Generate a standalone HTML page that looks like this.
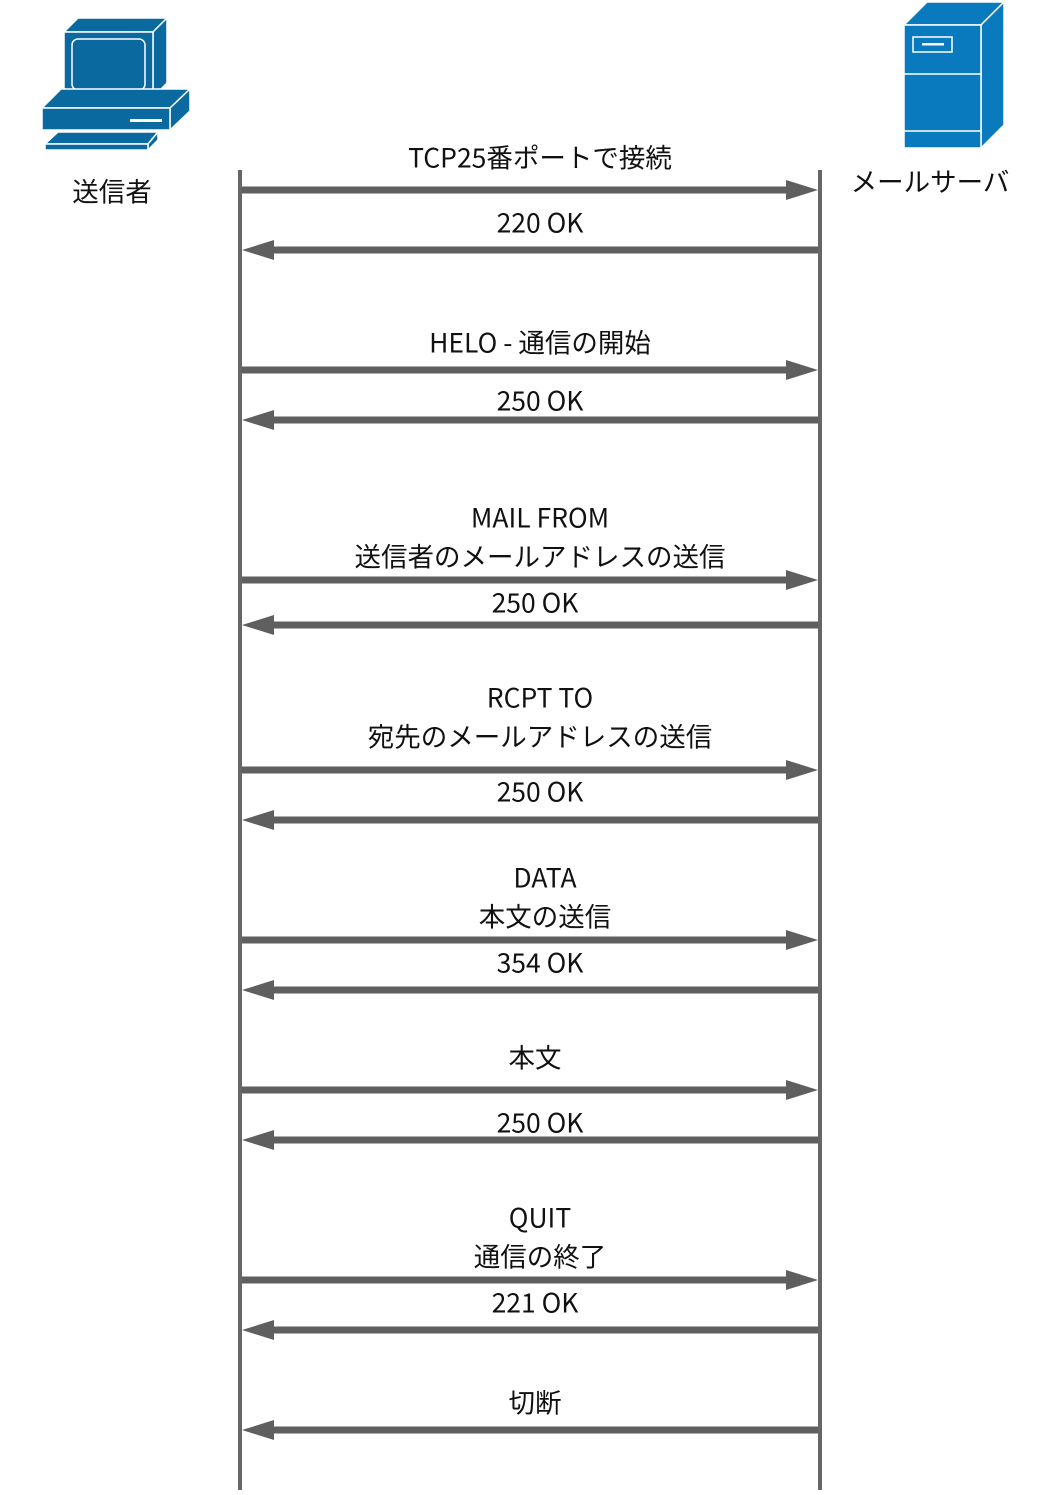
<!DOCTYPE html>
<html><head><meta charset="utf-8"><style>
html,body{margin:0;padding:0;background:#fff;}
svg text{font-family:"Noto Sans CJK JP","Liberation Sans",sans-serif;font-size:26.5px;fill:#111;text-anchor:middle;dominant-baseline:central;}
</style></head><body>
<svg width="1060" height="1490" viewBox="0 0 1060 1490" xmlns="http://www.w3.org/2000/svg">
<g stroke="#fff" stroke-width="1.5" fill="#0a6aa0">
<polygon points="64,32 78,18 167,18 153,32"/>
<polygon points="153,32 167,18 167,83 153,97"/>
<rect x="64" y="32" width="89" height="65"/>
<rect x="72" y="39" width="73" height="51" rx="6"/>
<polygon points="42,108 61,89 190,89 170,108"/>
<polygon points="170,108 190,89 190,111 170,130"/>
<rect x="42" y="108" width="128" height="22"/>
<polygon points="45,144 58,132 158,132 148,144"/>
<polygon points="148,144 158,132 158,140 148,150"/>
<rect x="45" y="144" width="103" height="6"/>
</g>
<rect x="130" y="119" width="32" height="3" fill="#fff"/>
<g stroke="#fff" stroke-width="1.5" fill="#0a7abf">
<polygon points="904,25 927,2 1004,2 981,25"/>
<polygon points="981,25 1004,2 1004,125 981,148"/>
<rect x="904" y="25" width="77" height="123"/>
<line x1="904" y1="74" x2="981" y2="74"/>
<line x1="904" y1="131" x2="981" y2="131"/>
<rect x="913" y="37" width="39" height="15"/>
</g>
<rect x="922" y="43" width="22" height="2.5" fill="#fff"/>
<text x="112" y="190">送信者</text>
<text x="930" y="180">メールサーバ</text>
<rect x="238" y="170" width="4" height="1320" fill="#666"/>
<rect x="818" y="170" width="4" height="1320" fill="#666"/>
<g fill="#5f5f5f">
<rect x="242" y="186.5" width="546" height="7"/><polygon points="786,180 818,190 786,200"/>
<rect x="242" y="366.5" width="546" height="7"/><polygon points="786,360 818,370 786,380"/>
<rect x="242" y="576.5" width="546" height="7"/><polygon points="786,570 818,580 786,590"/>
<rect x="242" y="766.5" width="546" height="7"/><polygon points="786,760 818,770 786,780"/>
<rect x="242" y="936.5" width="546" height="7"/><polygon points="786,930 818,940 786,950"/>
<rect x="242" y="1086.5" width="546" height="7"/><polygon points="786,1080 818,1090 786,1100"/>
<rect x="242" y="1276.5" width="546" height="7"/><polygon points="786,1270 818,1280 786,1290"/>
<rect x="272" y="246.5" width="546" height="7"/><polygon points="274,240 242,250 274,260"/>
<rect x="272" y="416.5" width="546" height="7"/><polygon points="274,410 242,420 274,430"/>
<rect x="272" y="621.5" width="546" height="7"/><polygon points="274,615 242,625 274,635"/>
<rect x="272" y="816.5" width="546" height="7"/><polygon points="274,810 242,820 274,830"/>
<rect x="272" y="986.5" width="546" height="7"/><polygon points="274,980 242,990 274,1000"/>
<rect x="272" y="1136.5" width="546" height="7"/><polygon points="274,1130 242,1140 274,1150"/>
<rect x="272" y="1326.5" width="546" height="7"/><polygon points="274,1320 242,1330 274,1340"/>
<rect x="272" y="1426.5" width="546" height="7"/><polygon points="274,1420 242,1430 274,1440"/>
</g>
<text x="540" y="156">TCP25番ポートで接続</text>
<text x="540" y="221">220 OK</text>
<text x="540" y="341">HELO - 通信の開始</text>
<text x="540" y="399">250 OK</text>
<text x="540" y="516">MAIL FROM</text>
<text x="540" y="555">送信者のメールアドレスの送信</text>
<text x="535" y="601">250 OK</text>
<text x="540" y="696">RCPT TO</text>
<text x="540" y="735">宛先のメールアドレスの送信</text>
<text x="540" y="790">250 OK</text>
<text x="545" y="876">DATA</text>
<text x="545" y="915">本文の送信</text>
<text x="540" y="961">354 OK</text>
<text x="535" y="1056">本文</text>
<text x="540" y="1121">250 OK</text>
<text x="540" y="1216">QUIT</text>
<text x="540" y="1255">通信の終了</text>
<text x="535" y="1301">221 OK</text>
<text x="535" y="1401">切断</text>
</svg>
</body></html>
